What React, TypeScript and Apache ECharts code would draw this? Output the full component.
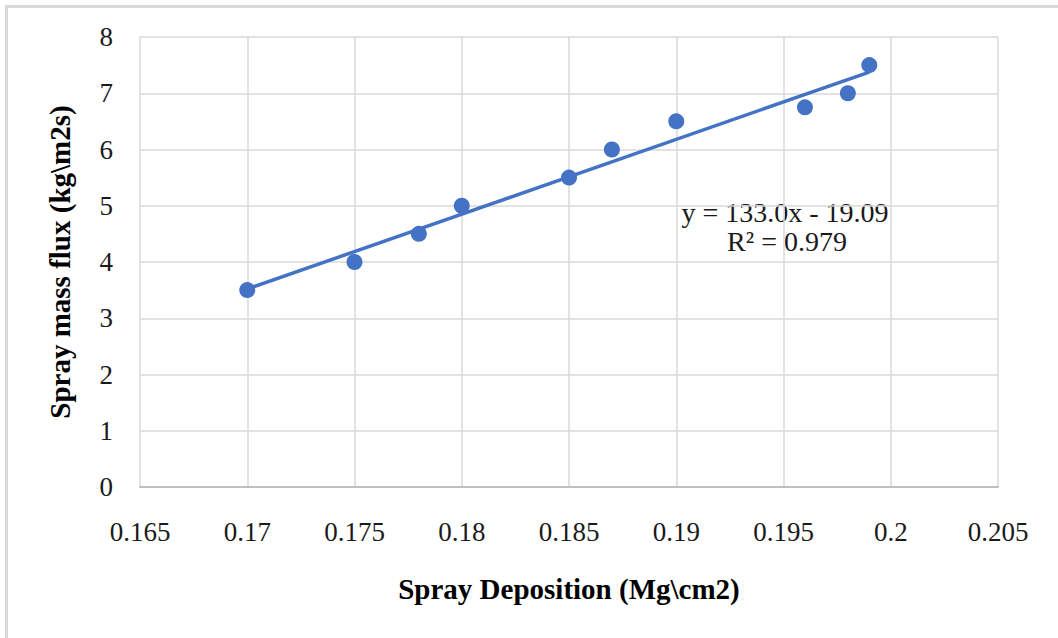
import React, { useEffect, useRef } from "react";
import * as echarts from "echarts";

const xValues = [0.17, 0.175, 0.178, 0.18, 0.185, 0.187, 0.19, 0.196, 0.198, 0.199];
const yValues = [3.5, 4.0, 4.5, 5.0, 5.5, 6.0, 6.5, 6.75, 7.0, 7.5];
const trendSlope = 133.0;
const trendIntercept = -19.09;
const trendRange = [0.17, 0.199];
const equationLines = ["y = 133.0x - 19.09", "R² = 0.979"];
const xTitle = "Spray Deposition (Mg\\cm2)";
const yTitle = "Spray mass flux (kg\\m2s)";

const FONT = "Liberation Serif";

export default function App() {
  const ref = useRef<HTMLDivElement>(null);
  useEffect(() => {
    if (!ref.current) return;
    const chart = echarts.init(ref.current, null, { renderer: "svg" });
    const points = xValues.map((x, i) => [x, yValues[i]]);
    const trend = trendRange.map((x) => [x, trendSlope * x + trendIntercept]);
    chart.setOption({
      animation: false,
      backgroundColor: "#ffffff",
      grid: { left: 140, right: 60, top: 37, bottom: 151, containLabel: false },
      xAxis: {
        type: "value",
        min: 0.165,
        max: 0.205,
        interval: 0.005,
        axisLine: { show: true, lineStyle: { color: "#bfbfbf", width: 2 } },
        axisTick: { show: false },
        splitLine: { show: true, lineStyle: { color: "#d9d9d9", width: 1.5 } },
        axisLabel: {
          margin: 31,
          fontFamily: FONT,
          fontSize: 27,
          color: "#1a1a1a",
          formatter: (v: number) => String(+v.toFixed(3)),
        },
        name: xTitle,
        nameLocation: "middle",
        nameGap: 87,
        nameTextStyle: { fontFamily: FONT, fontSize: 29, fontWeight: "bold", color: "#000" },
      },
      yAxis: {
        type: "value",
        min: 0,
        max: 8,
        interval: 1,
        axisLine: { show: false },
        axisTick: { show: false },
        splitLine: { show: true, lineStyle: { color: "#d9d9d9", width: 1.5 } },
        axisLabel: {
          margin: 27,
          fontFamily: FONT,
          fontSize: 27,
          color: "#1a1a1a",
        },
        name: yTitle,
        nameLocation: "middle",
        nameGap: 66,
        nameTextStyle: { fontFamily: FONT, fontSize: 29, fontWeight: "bold", color: "#000" },
      },
      series: [
        {
          type: "line",
          data: trend,
          symbol: "none",
          lineStyle: { color: "#4472c4", width: 3.5 },
          z: 2,
        },
        {
          type: "scatter",
          data: points,
          symbol: "circle",
          symbolSize: 16,
          itemStyle: { color: "#4472c4", opacity: 1 },
          z: 3,
        },
      ],
      graphic: [
        {
          type: "line",
          shape: { x1: 5, y1: 6.5, x2: 1058, y2: 6.5 },
          style: { stroke: "#d9d9d9", lineWidth: 3 },
        },
        {
          type: "line",
          shape: { x1: 6.5, y1: 5, x2: 6.5, y2: 638 },
          style: { stroke: "#d9d9d9", lineWidth: 3 },
        },
        {
          type: "text",
          x: 785,
          y: 212,
          style: {
            text: equationLines[0],
            font: `28px "${FONT}"`,
            fill: "#1a1a1a",
            textAlign: "center",
            textVerticalAlign: "middle",
          },
        },
        {
          type: "text",
          x: 787,
          y: 241,
          style: {
            text: equationLines[1],
            font: `28px "${FONT}"`,
            fill: "#1a1a1a",
            textAlign: "center",
            textVerticalAlign: "middle",
          },
        },
      ],
    });
    return () => chart.dispose();
  }, []);
  return (
    <div
      ref={ref}
      style={{ position: "absolute", left: 0, top: 0, width: 1058, height: 638 }}
    />
  );
}
